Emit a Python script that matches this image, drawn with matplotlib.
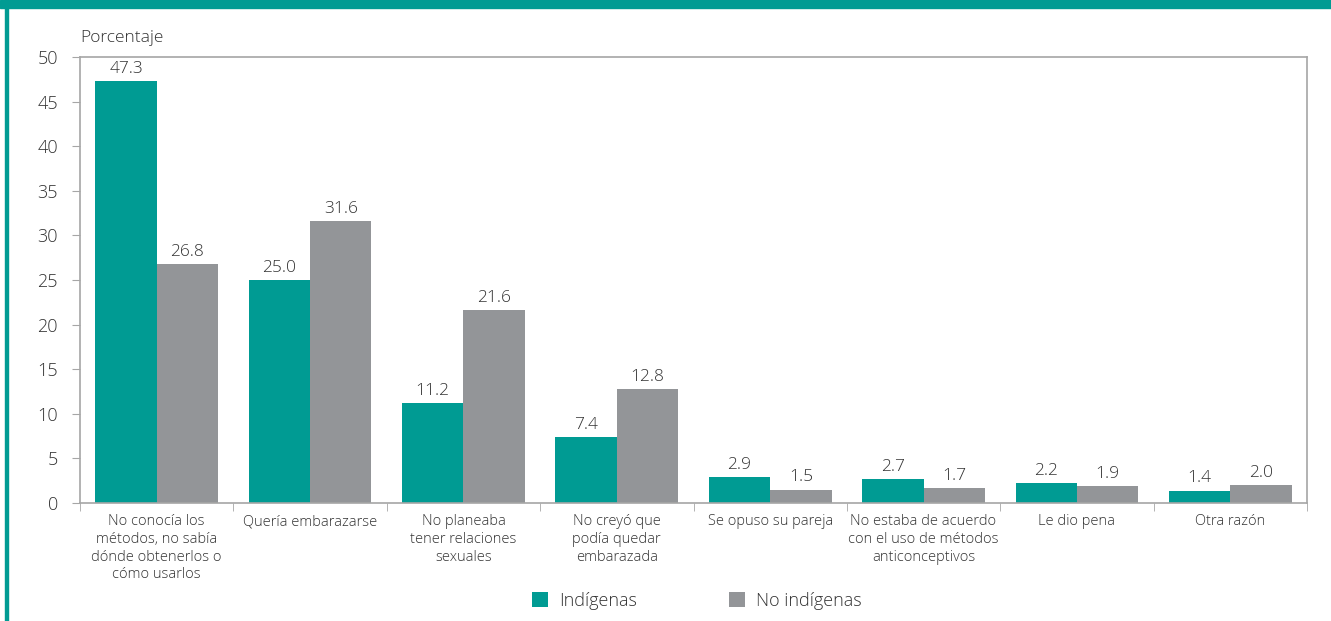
import numpy as np
import matplotlib.pyplot as plt
from matplotlib.patches import Rectangle

categorias = [
    "No conocía los\nmétodos, no sabía\ndónde obtenerlos o\ncómo usarlos",
    "Quería embarazarse",
    "No planeaba\ntener relaciones\nsexuales",
    "No creyó que\npodía quedar\nembarazada",
    "Se opuso su pareja",
    "No estaba de acuerdo\ncon el uso de métodos\nanticonceptivos",
    "Le dio pena",
    "Otra razón",
]
indigenas = [47.3, 25.0, 11.2, 7.4, 2.9, 2.7, 2.2, 1.4]
no_indigenas = [26.8, 31.6, 21.6, 12.8, 1.5, 1.7, 1.9, 2.0]
series = ["Indígenas", "No indígenas"]

TEAL = "#009b93"
GRIS = "#939598"
TEXTO = "#333333"
EJE = "#a6a6a6"

plt.rcParams["font.family"] = ["Open Sans", "DejaVu Sans"]
plt.rcParams["font.weight"] = "light"

fig = plt.figure(figsize=(13.31, 6.21), dpi=100)
ax = fig.add_axes([80 / 1331, 1 - 503 / 621, 1227 / 1331, 446 / 621])

# marco del recuadro
fig.patches.append(Rectangle((0, 1 - 8 / 621), 1, 8 / 621, transform=fig.transFigure,
                             color=TEAL, zorder=0))
fig.patches.append(Rectangle((5 / 1331, 0), 2.5 / 1331, 1, transform=fig.transFigure,
                             color=TEAL, zorder=0))

x = np.arange(len(categorias))
w = 0.4
b1 = ax.bar(x - w / 2, indigenas, w, color=TEAL, label=series[0])
b2 = ax.bar(x + w / 2, no_indigenas, w, color=GRIS, label=series[1])

for barras in (b1, b2):
    for r in barras:
        v = r.get_height()
        ax.annotate(f"{v:.1f}", (r.get_x() + r.get_width() / 2, v),
                    xytext=(0, 3), textcoords="offset points",
                    ha="center", va="bottom", fontsize=12.5, color=TEXTO)

ax.set_xlim(-0.5, len(categorias) - 0.5)
ax.set_ylim(0, 50)
ax.set_yticks(range(0, 51, 5))
ax.tick_params(axis="y", length=6, color=EJE, labelsize=13, labelcolor=TEXTO, pad=10)

ax.set_xticks(x)
ax.set_xticklabels(categorias, fontsize=10.5, color=TEXTO, linespacing=1.25)
ax.tick_params(axis="x", which="major", length=0, pad=8)
ax.set_xticks(np.arange(-0.5, len(categorias)), minor=True)
ax.tick_params(axis="x", which="minor", length=6, color=EJE)

for s in ax.spines.values():
    s.set_color(EJE)
    s.set_linewidth(1.2)

fig.text(80 / 1331, 1 - 38 / 621, "Porcentaje", fontsize=12.5, color=TEXTO,
         ha="left", va="center")

fig.legend(handles=[b1, b2], labels=series, loc="center",
           bbox_to_anchor=(697 / 1331, 1 - 601 / 621), ncol=2, frameon=False,
           fontsize=13, handlelength=0.9, handleheight=0.9, handletextpad=0.6,
           columnspacing=5.1, labelcolor=TEXTO)

fig.savefig("out.png", dpi=100)
